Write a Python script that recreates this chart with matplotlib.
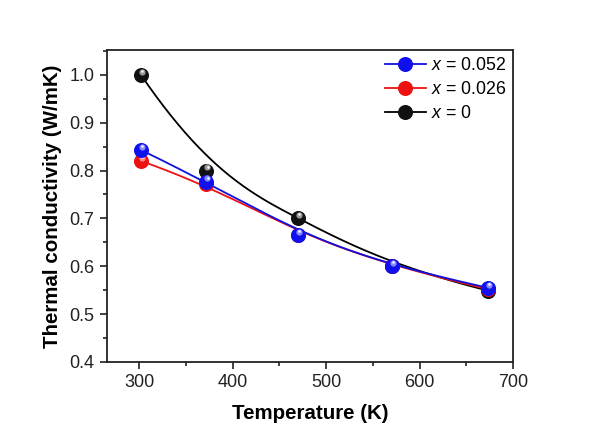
import numpy as np
import matplotlib
matplotlib.use("Agg")
import matplotlib.pyplot as plt
from matplotlib.ticker import MultipleLocator, AutoMinorLocator
from matplotlib.transforms import offset_copy

plt.rcParams['font.family'] = ['Liberation Sans', 'DejaVu Sans']
plt.rcParams['mathtext.fontset'] = 'custom'
plt.rcParams['mathtext.it'] = 'Liberation Sans:italic'
plt.rcParams['mathtext.rm'] = 'Liberation Sans'

# Data
temp_052 = [302, 372, 470, 570, 673]
kappa_052 = [0.843, 0.777, 0.665, 0.600, 0.555]
temp_026 = [302, 372, 470, 570, 673]
kappa_026 = [0.820, 0.772, 0.665, 0.600, 0.552]
temp_0 = [302, 372, 470, 570, 673]
kappa_0 = [1.000, 0.800, 0.700, 0.600, 0.549]
labels = ["$x$ = 0.052", "$x$ = 0.026", "$x$ = 0"]

fig = plt.figure(figsize=(5.96, 4.34), dpi=100)
ax = fig.add_axes([0.1795, 0.166, 0.6815, 0.719])


def bspline(xs, ys, n=300, k=3):
    """Clamped uniform B-spline with the data points as control points
    (the 'B-spline' line connection style)."""
    P = np.column_stack([xs, ys]).astype(float)
    m = len(P)
    inner = np.arange(1, m - k)
    knots = np.concatenate([np.zeros(k + 1), inner, np.full(k + 1, m - k)]).astype(float)
    u = np.linspace(0, m - k, n)
    u[-1] -= 1e-9

    def N(i, p, t):
        if p == 0:
            return ((knots[i] <= t) & (t < knots[i + 1])).astype(float)
        a = 0.0
        d1 = knots[i + p] - knots[i]
        d2 = knots[i + p + 1] - knots[i + 1]
        if d1 > 0:
            a = a + (t - knots[i]) / d1 * N(i, p - 1, t)
        if d2 > 0:
            a = a + (knots[i + p + 1] - t) / d2 * N(i + 1, p - 1, t)
        return a

    B = np.array([N(i, k, u) for i in range(m)]).T
    C = B @ P
    return C[:, 0], C[:, 1]


def sphere(ax, x, y, color, hl, z):
    ax.plot(x, y, 'o', ms=9.8, mfc=color, mec=color, zorder=z)
    tr = offset_copy(ax.transData, fig=fig, x=0.8, y=2.2, units='points')
    ax.plot(x, y, 'o', ms=4.5, mfc=hl, mec='none', alpha=0.8, transform=tr, zorder=z + 0.1)
    tr2 = offset_copy(ax.transData, fig=fig, x=1.0, y=2.8, units='points')
    ax.plot(x, y, 'o', ms=1.8, mfc='white', mec='none', transform=tr2, zorder=z + 0.2)


bx, by = bspline(temp_0, kappa_0)
ax.plot(bx, by, '-', color='black', lw=1.3, zorder=2)
rx, ry = bspline(temp_026, kappa_026)
ax.plot(rx, ry, '-', color='#ee1111', lw=1.3, zorder=3)
ux, uy = bspline(temp_052, kappa_052)
ax.plot(ux, uy, '-', color='#1010dd', lw=1.3, zorder=4)

sphere(ax, temp_0, kappa_0, '#111111', '#bbbbbb', 5)
sphere(ax, temp_026, kappa_026, '#ee1111', '#ffaaaa', 6)
sphere(ax, temp_052, kappa_052, '#1010ee', '#aaaaff', 7)

h1, = ax.plot([], [], '-o', color='#1010dd', mfc='#1010ee', mec='#1010ee', ms=9.8, lw=1.3)
h2, = ax.plot([], [], '-o', color='#ee1111', mfc='#ee1111', mec='#ee1111', ms=9.8, lw=1.3)
h3, = ax.plot([], [], '-o', color='black', mfc='#111111', mec='#111111', ms=9.8, lw=1.3)
ax.legend([h1, h2, h3], labels, loc='upper right', frameon=False, fontsize=12.8,
          handlelength=2.3, handletextpad=0.3, labelspacing=0.4,
          borderaxespad=0.2, bbox_to_anchor=(1.01, 1.012))

ax.set_xlim(265.8, 700)
ax.set_ylim(0.4, 1.052)
ax.xaxis.set_major_locator(MultipleLocator(100))
ax.xaxis.set_minor_locator(AutoMinorLocator(2))
ax.yaxis.set_major_locator(MultipleLocator(0.1))
ax.yaxis.set_minor_locator(AutoMinorLocator(2))
ax.yaxis.set_major_formatter(matplotlib.ticker.FormatStrFormatter('%.1f'))
ax.tick_params(which='both', direction='out', top=False, right=False, width=1.2,
               labelsize=13, colors='#222222')
ax.tick_params(which='major', length=5, pad=4)
ax.tick_params(which='minor', length=3)
for s in ax.spines.values():
    s.set_linewidth(1.3)
    s.set_color('#222222')

ax.set_xlabel('Temperature (K)', fontsize=14.8, fontweight='bold', labelpad=9)
ax.set_ylabel('Thermal conductivity (W/mK)', fontsize=14.8, fontweight='bold', labelpad=5)

fig.savefig('out.png', dpi=100)
